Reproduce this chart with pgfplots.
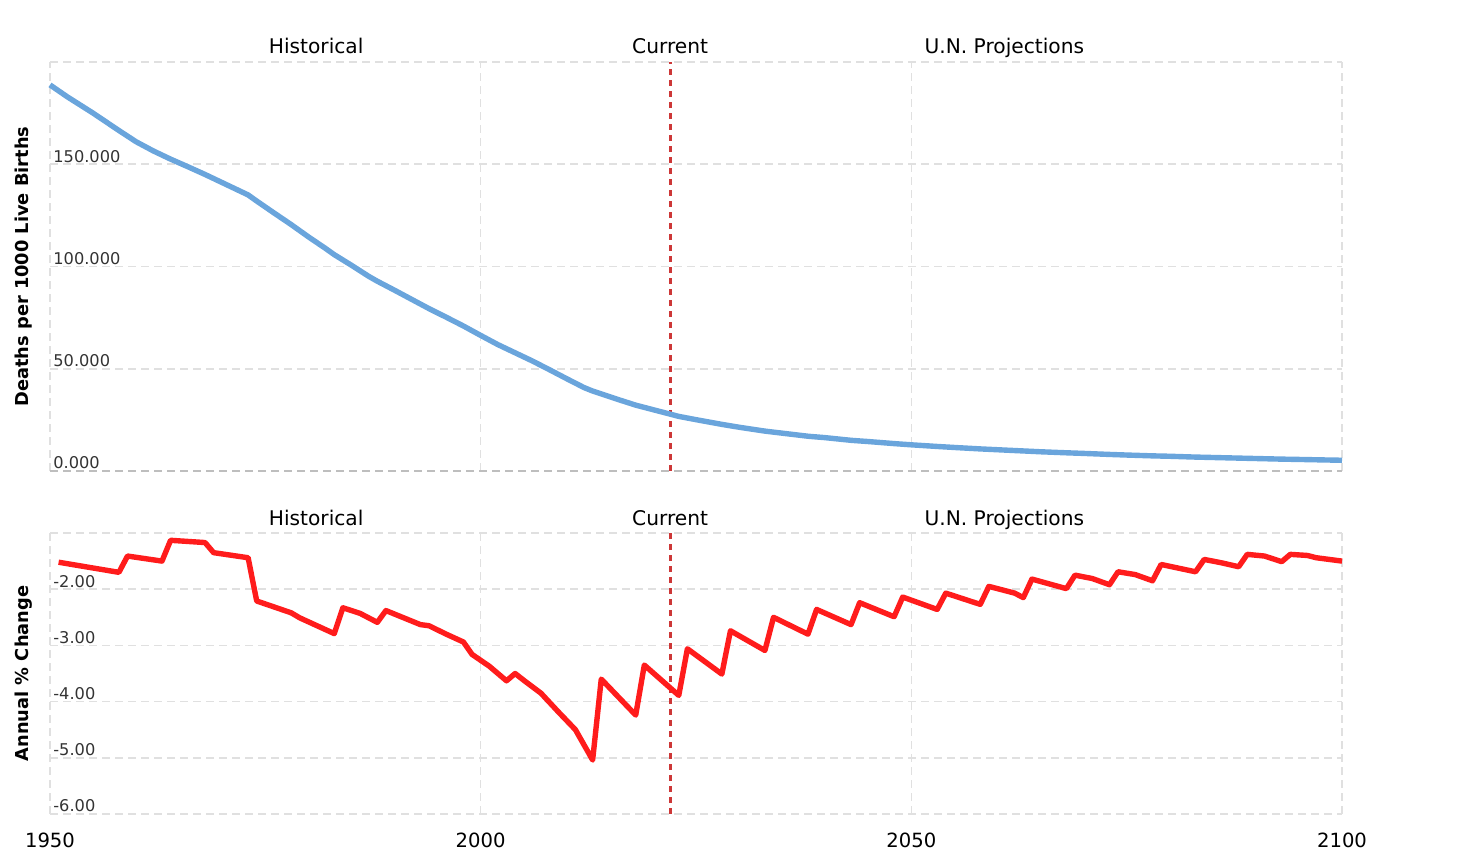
\documentclass[border=0pt]{standalone}
\usepackage{pgfplots}
\pgfplotsset{compat=1.18}
\usepackage{fontspec}
\setmainfont{DejaVu Sans}
\definecolor{blueline}{RGB}{106,165,220}
\definecolor{redline}{RGB}{255,28,28}
\definecolor{curline}{RGB}{205,55,55}
\definecolor{gridc}{RGB}{224,224,224}
\definecolor{zeroc}{RGB}{190,190,190}
\tikzset{lab/.style={anchor=base, yshift=4pt, font=\fontsize{10.1}{12}\selectfont}}
\pgfplotsset{
  common/.style={
    scale only axis, width=646pt,
    xmin=1950, xmax=2100,
    axis line style={draw=none},
    major tick length=0pt,
    tick style={draw=none},
    xtick={1950,2000,2050,2100},
    grid=major,
    major grid style={draw=gridc, line width=0.8pt, dash pattern=on 4pt off 2.5pt},
    yticklabel style={anchor=base west, inner sep=0pt, xshift=1.5pt, yshift=1pt, font=\fontsize{8.1}{9}\selectfont, text=black!80},
    /pgf/number format/assume math mode=true,
    clip=false,
  },
}
\begin{document}
\begin{tikzpicture}
\path[use as bounding box] (0,0) rectangle (733.5pt,433.5pt);
% top axis
\begin{axis}[common,
  at={(25pt,198pt)}, anchor=south west, height=204.5pt,
  ymin=0, ymax=200, ytick={0,50,100,150,200},
  yticklabels={0.000,50.000,100.000,150.000,},
  xticklabels={},
]
\addplot[draw=zeroc, line width=0.8pt, dash pattern=on 4pt off 2.5pt] coordinates {(1950,0) (2100,0)};
\addplot[curline, line width=1.5pt, dash pattern=on 3pt off 2.5pt] coordinates {(2022,0) (2022,200)};
\addplot[blueline, line width=2.7pt, line join=round] coordinates {
(1950,188.8)(1952,183.0)(1955,175.0)(1958,166.5)(1960,161.0)(1962,156.5)(1964,152.5)
(1966,148.8)(1968,145.0)(1970,141.0)(1973,135.0)(1974,132.0)(1976,126.2)(1978,120.5)
(1980,114.5)(1982,108.8)(1983,105.8)(1985,100.6)(1987,95.2)(1988,92.8)(1990,88.4)
(1992,83.9)(1994,79.4)(1996,75.2)(1998,70.9)(2000,66.3)(2002,61.8)(2004,57.8)
(2006,53.8)(2008,49.5)(2010,45.1)(2012,40.8)(2013,39.1)(2014,37.7)(2016,34.9)
(2018,32.2)(2019,31.1)(2020,30.0)(2022,27.8)(2023,26.7)(2025,25.1)(2028,22.8)
(2030,21.4)(2033,19.5)(2035,18.5)(2038,17.0)(2040,16.3)(2043,15.0)(2045,14.4)
(2048,13.4)(2050,12.8)(2053,12.0)(2055,11.5)(2058,10.8)(2060,10.4)(2063,9.8)
(2065,9.4)(2068,8.9)(2070,8.6)(2073,8.1)(2075,7.8)(2078,7.4)(2080,7.2)(2083,6.8)
(2085,6.6)(2088,6.3)(2090,6.1)(2093,5.8)(2095,5.65)(2098,5.4)(2100,5.25)};
\node[lab] at (axis cs:1980.9,200) {Historical};
\node[lab] at (axis cs:2022,200) {Current};
\node[lab] at (axis cs:2060.8,200) {U.N. Projections};
\end{axis}
% bottom axis
\begin{axis}[common,
  at={(25pt,26.5pt)}, anchor=south west, height=140.5pt,
  ymin=-6, ymax=-1, ytick={-6,-5,-4,-3,-2,-1},
  yticklabels={-6.00,-5.00,-4.00,-3.00,-2.00,},
  xticklabels={1950,2000,2050,2100},
  xticklabel style={anchor=north, inner sep=0pt, yshift=-9.5pt, font=\fontsize{9.8}{11}\selectfont},
]
\addplot[curline, line width=1.5pt, dash pattern=on 3pt off 2.5pt] coordinates {(2022,-6) (2022,-1)};
\addplot[redline, line width=2.7pt, line join=round] coordinates {
(1951,-1.52)(1958,-1.70)(1959,-1.41)(1963,-1.50)(1964,-1.13)(1968,-1.17)(1969,-1.35)
(1973,-1.44)(1974,-2.21)(1978,-2.42)(1979,-2.51)(1983,-2.79)(1984,-2.33)(1986,-2.43)
(1988,-2.59)(1989,-2.38)(1993,-2.63)(1994,-2.65)(1996,-2.80)(1997,-2.87)(1998,-2.94)
(1999,-3.16)(2001,-3.37)(2003,-3.63)(2004,-3.50)(2005,-3.62)(2007,-3.85)(2009,-4.18)
(2011,-4.50)(2013,-5.04)(2014,-3.60)(2018,-4.24)(2019,-3.35)(2023,-3.89)(2024,-3.06)
(2028,-3.51)(2029,-2.74)(2033,-3.09)(2034,-2.50)(2038,-2.80)(2039,-2.36)(2043,-2.63)
(2044,-2.24)(2048,-2.49)(2049,-2.14)(2053,-2.36)(2054,-2.07)(2058,-2.27)(2059,-1.95)
(2061,-2.03)(2062,-2.07)(2063,-2.15)(2064,-1.82)(2068,-1.99)(2069,-1.75)(2071,-1.81)
(2073,-1.92)(2074,-1.69)(2076,-1.74)(2078,-1.85)(2079,-1.56)(2083,-1.69)(2084,-1.47)
(2086,-1.53)(2088,-1.60)(2089,-1.38)(2091,-1.41)(2093,-1.51)(2094,-1.38)(2096,-1.40)
(2097,-1.44)(2100,-1.50)};
\node[lab] at (axis cs:1980.9,-1) {Historical};
\node[lab] at (axis cs:2022,-1) {Current};
\node[lab] at (axis cs:2060.8,-1) {U.N. Projections};
\end{axis}
\node[rotate=90, font=\bfseries\fontsize{8.9}{10}\selectfont] at (12pt,300.25pt) {Deaths per 1000 Live Births};
\node[rotate=90, font=\bfseries\fontsize{8.9}{10}\selectfont] at (12pt,96.75pt) {Annual \% Change};
\end{tikzpicture}
\end{document}
